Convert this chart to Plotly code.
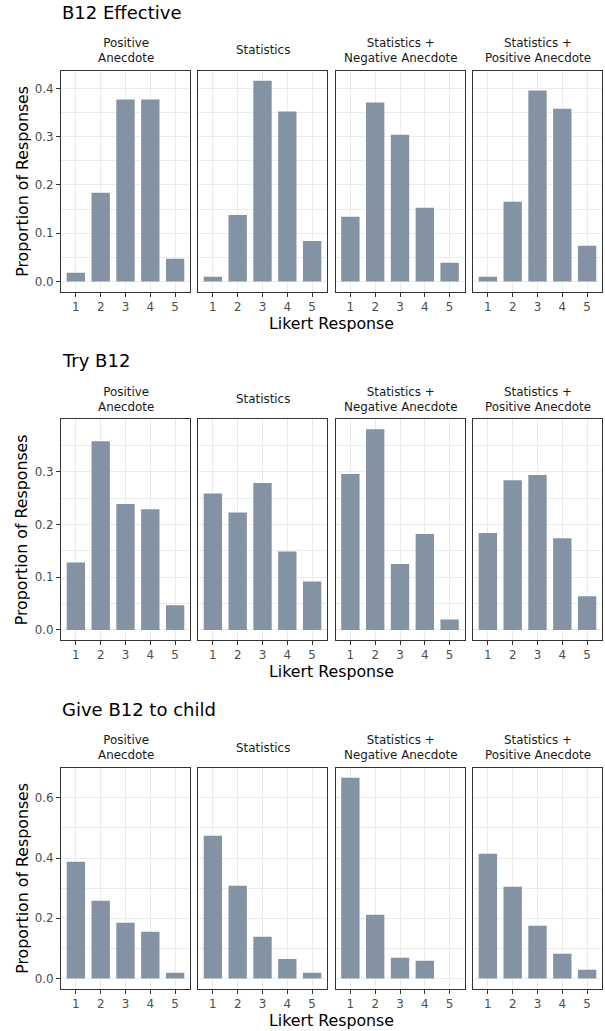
import plotly.graph_objects as go

# Likert categories and facet labels
likert = [1, 2, 3, 4, 5]
conditions = [
    "Positive<br>Anecdote",
    "Statistics",
    "Statistics +<br>Negative Anecdote",
    "Statistics +<br>Positive Anecdote",
]
questions = ["B12 Effective", "Try B12", "Give B12 to child"]

# Proportion of responses per condition, question "B12 Effective"
effective_positive = [0.018, 0.184, 0.377, 0.377, 0.047]
effective_stats = [0.010, 0.138, 0.416, 0.352, 0.084]
effective_stats_neg = [0.134, 0.371, 0.304, 0.153, 0.039]
effective_stats_pos = [0.010, 0.165, 0.396, 0.358, 0.074]

# Question "Try B12"
try_positive = [0.128, 0.358, 0.239, 0.229, 0.047]
try_stats = [0.259, 0.223, 0.279, 0.149, 0.092]
try_stats_neg = [0.296, 0.381, 0.125, 0.182, 0.020]
try_stats_pos = [0.184, 0.284, 0.294, 0.174, 0.064]

# Question "Give B12 to child"
child_positive = [0.388, 0.258, 0.185, 0.155, 0.019]
child_stats = [0.474, 0.308, 0.139, 0.065, 0.019]
child_stats_neg = [0.667, 0.212, 0.069, 0.059, 0.0]
child_stats_pos = [0.414, 0.305, 0.175, 0.082, 0.029]

# Y tick labels per row
row_ticks = [
    [0.0, 0.1, 0.2, 0.3, 0.4],
    [0.0, 0.1, 0.2, 0.3],
    [0.0, 0.2, 0.4, 0.6],
]
row_minor = [0.05, 0.05, 0.1]

data = [
    [effective_positive, effective_stats, effective_stats_neg, effective_stats_pos],
    [try_positive, try_stats, try_stats_neg, try_stats_pos],
    [child_positive, child_stats, child_stats_neg, child_stats_pos],
]

W, H = 605, 1031
FONT = "DejaVu Sans, sans-serif"
BAR = "rgb(132,147,163)"
GRID = "#ebebeb"
BORDER = "#333333"

panel_left = [61, 198, 335.5, 473]
panel_w = 129
row_top = [70.7, 419.2, 767.7]
panel_h = 220.8

fig = go.Figure()
layout = dict(
    width=W, height=H,
    margin=dict(l=0, r=0, t=0, b=0),
    paper_bgcolor="white", plot_bgcolor="white",
    showlegend=False,
    font=dict(family=FONT),
    annotations=[],
)

for r in range(3):
    rmax = max(max(v) for v in data[r])
    yrange = [-0.05 * rmax, 1.05 * rmax]
    top = row_top[r]
    for c in range(4):
        k = r * 4 + c + 1
        sfx = "" if k == 1 else str(k)
        fig.add_trace(go.Bar(
            x=likert, y=data[r][c], width=0.74,
            marker=dict(color=BAR, line=dict(width=0)),
            xaxis="x" + sfx, yaxis="y" + sfx,
            hovertemplate="%{x}: %{y:.3f}<extra></extra>",
        ))
        left = panel_left[c]
        layout["xaxis" + sfx] = dict(
            domain=[left / W, (left + panel_w) / W],
            anchor="y" + sfx,
            range=[0.4, 5.6],
            tickmode="array", tickvals=likert, ticktext=[str(v) for v in likert],
            showgrid=True, gridcolor=GRID, gridwidth=1.4,
            zeroline=False,
            showline=True, mirror=True, linecolor=BORDER, linewidth=1,
            ticks="outside", ticklen=4, tickwidth=1, tickcolor=BORDER,
            tickfont=dict(size=11.9, color="#4d4d4d", family=FONT),
            fixedrange=True,
        )
        layout["yaxis" + sfx] = dict(
            domain=[1 - (top + panel_h) / H, 1 - top / H],
            anchor="x" + sfx,
            range=yrange,
            tickmode="array", tickvals=row_ticks[r],
            tickformat=".1f",
            showgrid=True, gridcolor=GRID, gridwidth=1.4,
            minor=dict(tickmode="linear", tick0=0, dtick=row_minor[r],
                       showgrid=True, gridcolor=GRID, gridwidth=1.0, ticks=""),
            zeroline=False,
            showline=True, mirror=True, linecolor=BORDER, linewidth=1,
            ticks="outside" if c == 0 else "", ticklen=4, tickwidth=1, tickcolor=BORDER,
            showticklabels=(c == 0),
            tickfont=dict(size=11.9, color="#4d4d4d", family=FONT),
            fixedrange=True,
        )
        # facet strip label
        layout["annotations"].append(dict(
            text=conditions[c], xref="paper", yref="paper",
            x=(left + panel_w / 2) / W, y=1 - (top - 20.2) / H,
            xanchor="center", yanchor="middle", showarrow=False,
            font=dict(size=11.9, color="#1a1a1a", family=FONT),
        ))
    # row title
    layout["annotations"].append(dict(
        text=questions[r], xref="paper", yref="paper",
        x=60 / W, y=1 - (top - 58.5) / H,
        xanchor="left", yanchor="middle", showarrow=False,
        font=dict(size=18, color="black", family=FONT),
    ))
    # axis titles
    layout["annotations"].append(dict(
        text="Likert Response", xref="paper", yref="paper",
        x=(61 + 602) / 2 / W, y=1 - (top + 252.5) / H,
        xanchor="center", yanchor="middle", showarrow=False,
        font=dict(size=15.8, color="black", family=FONT),
    ))
    layout["annotations"].append(dict(
        text="Proportion of Responses", xref="paper", yref="paper",
        x=21.7 / W, y=1 - (top + panel_h / 2) / H, textangle=-90,
        xanchor="center", yanchor="middle", showarrow=False,
        font=dict(size=15.8, color="black", family=FONT),
    ))

fig.update_layout(**layout)
fig.write_html("out.html")
